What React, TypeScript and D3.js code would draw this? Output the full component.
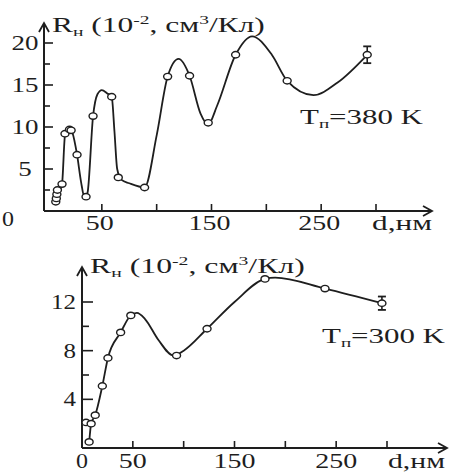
import { useEffect, useRef } from "react";
import * as d3 from "d3";

// Т = 380 K: измеренные точки (d, нм ; R_H, 10^-2 см^3/Кл)
const d380 = [8, 8.5, 9, 9.5, 13.7, 16.4, 20.5, 22, 27.4, 35.6, 42, 59, 65, 89, 110, 130, 147, 172, 219, 292];
const r380 = [1.1, 1.5, 2.0, 2.5, 3.2, 9.2, 9.7, 9.6, 6.7, 1.7, 11.3, 13.6, 4.0, 2.8, 16.0, 16.1, 10.5, 18.6, 15.5, 18.6];
// сглаживающая кривая (узлы)
const fitD380 = [8, 10, 13.7, 16.4, 20, 23, 27.4, 31, 34.5, 37, 42, 46, 50, 55, 59, 61.5, 64, 68, 75, 89, 100, 110, 120, 130, 140, 147, 155, 172, 187, 205, 219, 243, 265, 292];
const fitR380 = [1.0, 1.9, 3.2, 9.0, 10.0, 9.4, 6.7, 3.5, 1.5, 2.2, 11.3, 13.9, 14.4, 14.0, 13.6, 9.5, 5.0, 3.7, 3.3, 2.8, 9.0, 16.0, 18.1, 16.1, 11.6, 10.3, 12.5, 18.6, 20.8, 18.6, 15.5, 13.8, 15.3, 18.6];
const err380 = 1.0;

// Т = 300 K
const d300 = [4, 7, 9, 13, 20, 25.5, 38, 48, 93, 123, 180, 239, 295];
const r300 = [2.1, 0.5, 2.0, 2.7, 5.1, 7.4, 9.5, 10.9, 7.6, 9.8, 13.9, 13.1, 11.9];
const fitD300 = [7, 9, 13, 20, 25.5, 38, 48, 54, 62, 75, 90, 100, 123, 150, 180, 190, 239, 295];
const fitR300 = [0.4, 2.0, 2.7, 5.1, 7.4, 9.5, 10.9, 11.1, 10.6, 8.9, 7.6, 8.0, 9.8, 12.0, 13.9, 14.0, 13.1, 11.9];
const err300 = 0.55;

const xTicks = [50, 100, 150, 200, 250, 300];
const xLabels = [50, 150, 250];
const yMajor380 = [5, 10, 15, 20];
const yMinor380 = [2.5, 7.5, 12.5, 17.5];
const yMajor300 = [4, 8, 12];
const yMinor300 = [2, 6, 10];

const INK = "#1e1e1e";
const FONT = "'Liberation Serif', 'Times New Roman', serif";

// текст: части [строка, "", "sub" | "sup"], растягивается по ширине target
const addText = (g, x, y, parts, target, anchor = "start") => {
    const t = g.append("text")
        .attr("transform", `translate(${x},${y})`)
        .attr("text-anchor", anchor)
        .style("font-family", FONT)
        .style("font-size", "21px")
        .attr("fill", INK);
    let shift = 0;
    parts.forEach(([s, kind]) => {
        const want = kind === "sup" ? -8 : kind === "sub" ? 4 : 0;
        t.append("tspan")
            .attr("dy", want - shift)
            .style("font-size", kind ? "13px" : "21px")
            .text(s);
        shift = want;
    });
    const w = t.node().getComputedTextLength();
    if (target && w > 0) t.attr("transform", `translate(${x},${y}) scale(${target / w},1)`);
};

const App = () => {
    const svgRef = useRef(null);

    useEffect(() => {
        const svg = d3.select(svgRef.current);
        svg.selectAll("*").remove();

        const drawPanel = (o) => {
            const { x, y, axisX, arrowX, arrowY, yMajor, yMinor, majLen, minLen, pd, pr, fd, fr, err } = o;
            const g = svg.append("g");
            const y0 = y(0);

            // оси
            g.append("line").attr("x1", axisX).attr("x2", arrowX).attr("y1", y0).attr("y2", y0)
                .attr("stroke", INK).attr("stroke-width", 2);
            g.append("line").attr("x1", axisX).attr("x2", axisX).attr("y1", y0).attr("y2", arrowY)
                .attr("stroke", INK).attr("stroke-width", 2);
            g.append("path").attr("d", `M${arrowX - 9},${y0 - 5}L${arrowX},${y0}L${arrowX - 9},${y0 + 5}`)
                .attr("fill", "none").attr("stroke", INK).attr("stroke-width", 1.8);
            g.append("path").attr("d", `M${axisX - 5},${arrowY + 9}L${axisX},${arrowY}L${axisX + 5},${arrowY + 9}`)
                .attr("fill", "none").attr("stroke", INK).attr("stroke-width", 1.8);

            // деления
            xTicks.forEach((v) => {
                g.append("line").attr("x1", x(v)).attr("x2", x(v)).attr("y1", y0).attr("y2", y0 - 7)
                    .attr("stroke", INK).attr("stroke-width", 1.6);
            });
            yMajor.forEach((v) => {
                g.append("line").attr("x1", axisX).attr("x2", axisX + majLen).attr("y1", y(v)).attr("y2", y(v))
                    .attr("stroke", INK).attr("stroke-width", 1.6);
            });
            yMinor.forEach((v) => {
                g.append("line").attr("x1", axisX).attr("x2", axisX + minLen).attr("y1", y(v)).attr("y2", y(v))
                    .attr("stroke", INK).attr("stroke-width", 1.6);
            });

            // кривая
            const line = d3.line().x((d) => x(d[0])).y((d) => y(d[1])).curve(d3.curveMonotoneX);
            g.append("path").datum(fd.map((d, i) => [d, fr[i]]))
                .attr("d", line).attr("fill", "none").attr("stroke", INK).attr("stroke-width", 1.8);

            // погрешность на последней точке
            const last = pd.length - 1;
            const ex = x(pd[last]);
            const eTop = y(pr[last] + err), eBot = y(pr[last] - err);
            g.append("line").attr("x1", ex).attr("x2", ex).attr("y1", eTop).attr("y2", eBot)
                .attr("stroke", INK).attr("stroke-width", 1.6);
            [eTop, eBot].forEach((ey) => {
                g.append("line").attr("x1", ex - 4).attr("x2", ex + 4).attr("y1", ey).attr("y2", ey)
                    .attr("stroke", INK).attr("stroke-width", 1.8);
            });

            // точки
            g.selectAll(".pt").data(pd).enter().append("ellipse")
                .attr("cx", (d) => x(d)).attr("cy", (_, i) => y(pr[i]))
                .attr("rx", 4).attr("ry", 3.2)
                .attr("fill", "white").attr("stroke", INK).attr("stroke-width", 1.4);
            return g;
        };

        // верхний график, 380 K
        const x1 = d3.scaleLinear().domain([0, 300]).range([47, 376]);
        const y1 = d3.scaleLinear().domain([0, 20]).range([211, 43]);
        const g1 = drawPanel({
            x: x1, y: y1, axisX: 44, arrowX: 432, arrowY: 23,
            yMajor: yMajor380, yMinor: yMinor380, majLen: 9, minLen: 6,
            pd: d380, pr: r380, fd: fitD380, fr: fitR380, err: err380,
        });
        yMajor380.forEach((v) => addText(g1, 25, y1(v) + 7, [[String(v), ""]], 13.5 * String(v).length, "middle"));
        addText(g1, 8, 226, [["0", ""]], 12, "middle");
        xLabels.forEach((v) => addText(g1, x1(v) - 2, 230, [[String(v), ""]], 14 * String(v).length, "middle"));
        addText(g1, 372, 230, [["d,нм", ""]], 60);
        addText(g1, 52, 32, [["R", ""], ["н", "sub"], [" (10", ""], ["-2", "sup"], [", см", ""], ["3", "sup"], ["/Кл)", ""]], 213);
        addText(g1, 300, 124, [["T", ""], ["п", "sub"], ["=380 K", ""]], 123);

        // нижний график, 300 K
        const x2 = d3.scaleLinear().domain([0, 300]).range([82, 387]);
        const y2 = d3.scaleLinear().domain([0, 12]).range([448, 302]);
        const g2 = drawPanel({
            x: x2, y: y2, axisX: 82, arrowX: 447, arrowY: 267,
            yMajor: yMajor300, yMinor: yMinor300, majLen: 11, minLen: 7,
            pd: d300, pr: r300, fd: fitD300, fr: fitR300, err: err300,
        });
        yMajor300.forEach((v) => addText(g2, 76, y2(v) + 7, [[String(v), ""]], 12.5 * String(v).length, "end"));
        [0, ...xLabels].forEach((v) => addText(g2, x2(v), 468, [[String(v), ""]], v === 0 ? 12 : 14 * String(v).length, "middle"));
        addText(g2, 388, 468, [["d,нм", ""]], 57);
        addText(g2, 90, 273, [["R", ""], ["н", "sub"], [" (10", ""], ["-2", "sup"], [", см", ""], ["3", "sup"], ["/Кл)", ""]], 215);
        addText(g2, 322, 343, [["T", ""], ["п", "sub"], ["=300 K", ""]], 123);
    }, []);

    return (
        <svg ref={svgRef} width={450} height={475}
            style={{ position: "absolute", left: 0, top: 0, background: "white" }} />
    );
};

export default App;
